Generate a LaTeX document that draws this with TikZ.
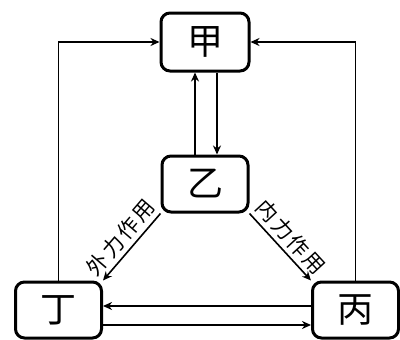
\documentclass[tikz,border=0pt]{standalone}
\usepackage{fontspec}
\newfontfamily\cjk{Noto Sans CJK SC}
\newfontfamily\cjklab[LetterSpace=12]{Noto Sans CJK SC}
\usetikzlibrary{arrows.meta}
\begin{document}
\begin{tikzpicture}[x=1pt,y=1pt,
  box/.style={draw,line width=3pt,rounded corners=9pt,minimum width=86pt,minimum height=56pt,inner sep=0pt,font=\cjk\fontsize{36}{36}\selectfont},
  conn/.style={line width=1.6pt,-{Stealth[length=9pt,width=8pt]}},
  lab/.style={font=\cjklab\fontsize{21}{21}\selectfont,sloped,above,inner sep=4pt}]
\useasboundingbox (0,0) rectangle (400,-340);
\node[box,minimum width=88pt,minimum height=58pt] (jia) at (205,-42) {甲};
\node[box] (yi) at (205,-184) {乙};
\node[box] (ding) at (58.5,-310) {丁};
\node[box] (bing) at (355.5,-310) {丙};
\draw[conn] (ding.north) |- (jia.west);
\draw[conn] (bing.north) |- (jia.east);
\draw[conn] ([xshift=-10pt]yi.north) -- ([xshift=-10pt]jia.south);
\draw[conn] ([xshift=12pt]jia.south) -- ([xshift=12pt]yi.north);
\draw[conn] (yi.south west) -- node[lab] {外力作用} (ding.north east);
\draw[conn] (yi.south east) -- node[lab] {内力作用} (bing.north west);
\draw[conn] ([yshift=4pt]bing.west) -- ([yshift=4pt]ding.east);
\draw[conn] ([yshift=-15pt]ding.east) -- ([yshift=-15pt]bing.west);
\end{tikzpicture}
\end{document}
